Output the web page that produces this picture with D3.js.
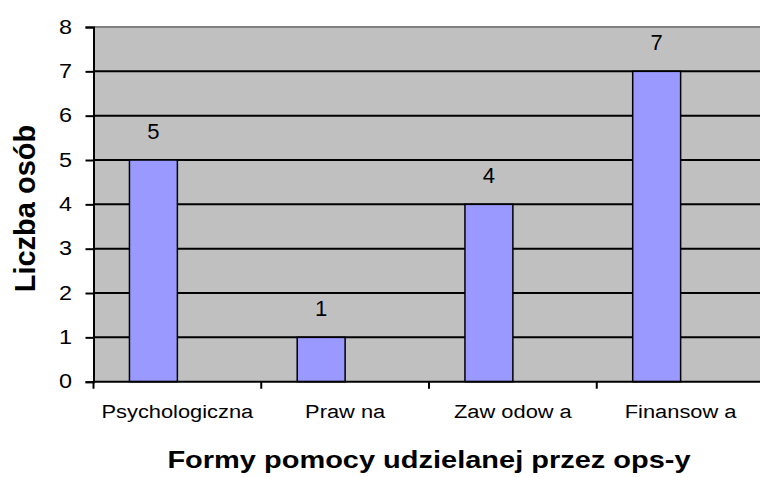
<!DOCTYPE html>
<html>
<head>
<meta charset="utf-8">
<script src="https://d3js.org/d3.v7.min.js"></script>
<style>
  body { margin: 0; background: #fff; }
  text { font-family: Arial, "Liberation Sans", sans-serif; fill: #000; }
</style>
</head>
<body>
<div id="chart"></div>
<script>
// data
const categories = ['Psychologiczna', 'Praw na', 'Zaw odow a', 'Finansow a'];
const values = [5, 1, 4, 7];
const series = ['liczba', 'pusta']; // excel kept a second, empty series slot
const yTicks = [0, 1, 2, 3, 4, 5, 6, 7, 8];

const width = 760, height = 477;
const plot = {left: 93.5, top: 27, right: 764.5, bottom: 381.7};

const svg = d3.select('#chart').append('svg')
  .attr('width', width)
  .attr('height', height);

const x = d3.scaleBand()
  .domain(categories)
  .range([plot.left, plot.right])
  .padding(0);

const x1 = d3.scaleBand()
  .domain(series)
  .range([0, x.bandwidth()])
  .paddingInner(0)
  .paddingOuter(0.75);

const y = d3.scaleLinear()
  .domain([0, 8])
  .range([plot.bottom, plot.top]);

// plot background
svg.append('rect')
  .attr('x', plot.left).attr('y', plot.top)
  .attr('width', plot.right - plot.left)
  .attr('height', plot.bottom - plot.top)
  .attr('fill', '#c0c0c0');

// top border
svg.append('line')
  .attr('x1', plot.left).attr('x2', plot.right)
  .attr('y1', plot.top).attr('y2', plot.top)
  .attr('stroke', '#808080').attr('stroke-width', 2);

// gridlines
svg.append('g')
  .selectAll('line')
  .data(yTicks.filter(d => d > 0 && d < 8))
  .join('line')
    .attr('x1', plot.left).attr('x2', plot.right)
    .attr('y1', d => y(d)).attr('y2', d => y(d))
    .attr('stroke', '#000').attr('stroke-width', 2);

// bars
const bars = svg.append('g');
bars.selectAll('rect')
  .data(values)
  .join('rect')
    .attr('x', (d, i) => x(categories[i]) + x1('liczba'))
    .attr('y', d => y(d))
    .attr('width', x1.bandwidth())
    .attr('height', d => y(0) - y(d))
    .attr('fill', '#9999ff')
    .attr('stroke', '#000')
    .attr('stroke-width', 1.5);

// value labels
bars.selectAll('text')
  .data(values)
  .join('text')
    .attr('transform', (d, i) =>
      `translate(${x(categories[i]) + x1('liczba') + x1.bandwidth() / 2},${y(d) - 21})`)
    .attr('text-anchor', 'middle')
    .style('font-size', '22px')
    .text(d => d);

// y axis
const yAxis = svg.append('g')
  .attr('transform', `translate(${plot.left},0)`)
  .call(d3.axisLeft(y).tickValues(yTicks).tickSize(8).tickPadding(10).tickFormat(d3.format('d')));
yAxis.select('.domain').attr('stroke', '#000').attr('stroke-width', 2);
yAxis.selectAll('.tick line').attr('stroke', '#000').attr('stroke-width', 2);
yAxis.selectAll('.tick text')
  .attr('transform', 'scale(1.2,1)')
  .style('font-size', '19.5px')
  .style('font-family', 'Arial, "Liberation Sans", sans-serif');

// x axis: ticks sit on the category edges
const bounds = categories.map(c => x(c)).concat([plot.right]);
svg.append('line')
  .attr('x1', plot.left).attr('x2', plot.right)
  .attr('y1', plot.bottom).attr('y2', plot.bottom)
  .attr('stroke', '#000').attr('stroke-width', 2);
svg.append('g')
  .selectAll('line')
  .data(bounds)
  .join('line')
    .attr('x1', d => d).attr('x2', d => d)
    .attr('y1', plot.bottom).attr('y2', plot.bottom + 7)
    .attr('stroke', '#000').attr('stroke-width', 2);

svg.append('g')
  .selectAll('text')
  .data(categories)
  .join('text')
    .attr('transform', d => `translate(${x(d) + x.bandwidth() / 2},417.5) scale(1.15,1)`)
    .attr('text-anchor', 'middle')
    .style('font-size', '19px')
    .text(d => d);

// axis titles
svg.append('text')
  .attr('transform', `translate(${(plot.left + plot.right) / 2},468) scale(1.26,1)`)
  .attr('text-anchor', 'middle')
  .style('font-size', '23px')
  .style('font-weight', 'bold')
  .text('Formy pomocy udzielanej przez ops-y');

svg.append('text')
  .attr('transform', `translate(35,208.5) rotate(-90)`)
  .attr('text-anchor', 'middle')
  .style('font-size', '29px')
  .style('font-weight', 'bold')
  .text('Liczba osób');
</script>
</body>
</html>
